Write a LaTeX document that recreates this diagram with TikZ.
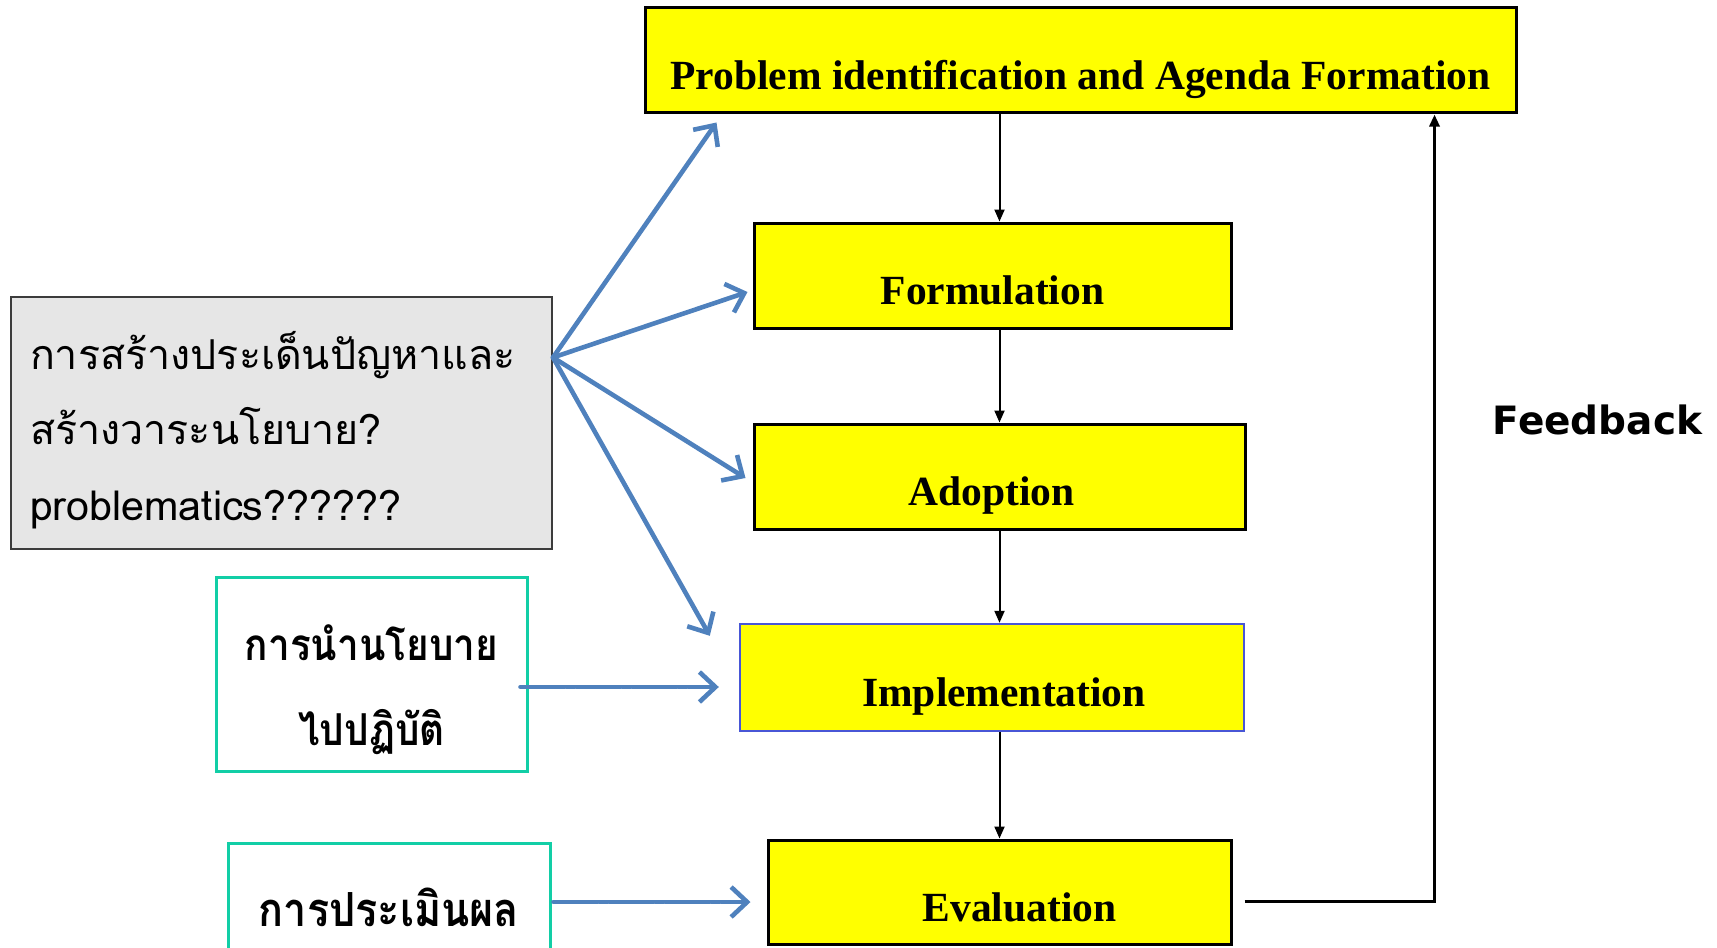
\documentclass[tikz,border=0pt]{standalone}
\usepackage{fontspec}
\setmainfont{Liberation Serif}
\newfontfamily\thaifont[Script=Thai]{Loma}
\newfontfamily\thainarrow[Script=Thai, FakeStretch=0.88]{Loma}
\newfontfamily\fbfont{DejaVu Sans}
\usetikzlibrary{arrows.meta,calc}
\definecolor{boxyellow}{RGB}{255,255,0}
\definecolor{arrowblue}{RGB}{79,129,189}
\definecolor{implblue}{RGB}{72,86,214}
\definecolor{boxteal}{RGB}{18,206,166}
\definecolor{boxgray}{RGB}{230,230,230}
\definecolor{edgegray}{RGB}{60,60,60}
\begin{document}
\begin{tikzpicture}[x=0.5pt,y=-0.5pt] % координаты в пикселях, y вниз
\tikzstyle{stage} = [draw=black, line width=1.5pt, fill=boxyellow, inner sep=0pt, minimum height=52.5pt, text height=29pt, text depth=0pt, font=\fontsize{20.75}{25}\selectfont\bfseries] % жёлтые блоки этапов
\tikzstyle{note} = [draw=boxteal, line width=1.5pt, fill=white, font=\thainarrow\bfseries\fontsize{22}{42.5}\selectfont] % пояснения по-тайски
\tikzstyle{flow} = [-{Triangle[length=6pt,width=5pt]}, line width=1pt] % чёрные стрелки
\tikzstyle{hint} = [-{Straight Barb[length=8pt,width=15pt]}, line width=2.3pt, draw=arrowblue, line cap=round] % синие стрелки
\tikzstyle{hintdash} = [hint, dash pattern=on 22pt off 1pt on 4pt off 1pt]

\useasboundingbox (0,0) rectangle (1717,947);

% этапы
\node[stage, minimum width=435.5pt] (prob) at (1080.5,60.5) {Problem identification and Agenda Formation};
\node[stage, minimum width=238.5pt] (form) at (992.5,275.5) {Formulation};
\node[stage, minimum width=245.5pt] (adopt) at (999.5,476.5) {Adoption\hspace*{8pt}};
\node[stage, minimum width=252pt, minimum height=53.5pt, draw=implblue, line width=1.2pt] (impl) at (992,677.5) {\hspace*{12pt}Implementation};
\node[stage, minimum width=231.5pt, minimum height=52pt] (eval) at (999.5,892) {\hspace*{20pt}Evaluation};

% левые блоки
\node[draw=edgegray, line width=1pt, fill=boxgray, minimum width=270.5pt, minimum height=126pt, inner xsep=9.5pt, text width=251.5pt, align=left, text height=21.5pt, text depth=75.5pt, font=\thaifont\fontsize{20.6}{37.75}\selectfont] (issue) at (281.5,423) {การสร้างประเด็นปัญหาและ\\สร้างวาระนโยบาย?\\problematics??????};
\node[note, minimum width=155.5pt, minimum height=97pt, align=center, text height=71pt, text depth=0pt] (apply) at (371.5,674) {การนำนโยบาย\\ไปปฏิบัติ};
\node[note, minimum width=161pt, minimum height=62pt, text height=21pt, text depth=0pt, font=\thainarrow\bfseries\fontsize{23.5}{30}\selectfont] (assess) at (389,905) {การประเมินผล};

\node[font=\fbfont\bfseries\fontsize{19.5}{24}\selectfont, anchor=base] (fb) at (1597.5,434) {Feedback};

% основной поток
\draw[flow] (prob.south -| adopt.north) -- (form.north -| adopt.north);
\draw[flow] (form.south -| adopt.north) -- (adopt.north);
\draw[flow] (adopt.south) -- (impl.north -| adopt.south);
\draw[flow] (impl.south -| adopt.south) -- (eval.north -| adopt.south);
\coordinate (fbstart) at ([xshift=6pt,yshift=-4.5pt]eval.east);
\draw[flow, line width=1.5pt] (fbstart) -| ([xshift=-41.5pt]prob.south east);

% синие стрелки
\coordinate (src) at ($(issue.north east)!0.242!(issue.south east)$);
\draw[hint] (src) -- ([xshift=36.5pt,yshift=-4pt]prob.south west);
\draw[hint] (src) -- ([xshift=-2.5pt,yshift=-8.25pt]form.west);
\draw[hint] (src) -- ([xshift=-3.5pt,yshift=-0.75pt]adopt.west);
\draw[hint] (src) -- ([xshift=-14.5pt,yshift=-6.5pt]impl.north west);
\draw[hintdash] ([xshift=-4pt,yshift=-6.5pt]apply.east) -- ([xshift=-10pt,yshift=-4.75pt]impl.west);
\draw[hintdash] ([xshift=1pt,yshift=1.5pt]assess.east) -- ([xshift=-8pt,yshift=-5pt]eval.west);
\end{tikzpicture}
\end{document}
